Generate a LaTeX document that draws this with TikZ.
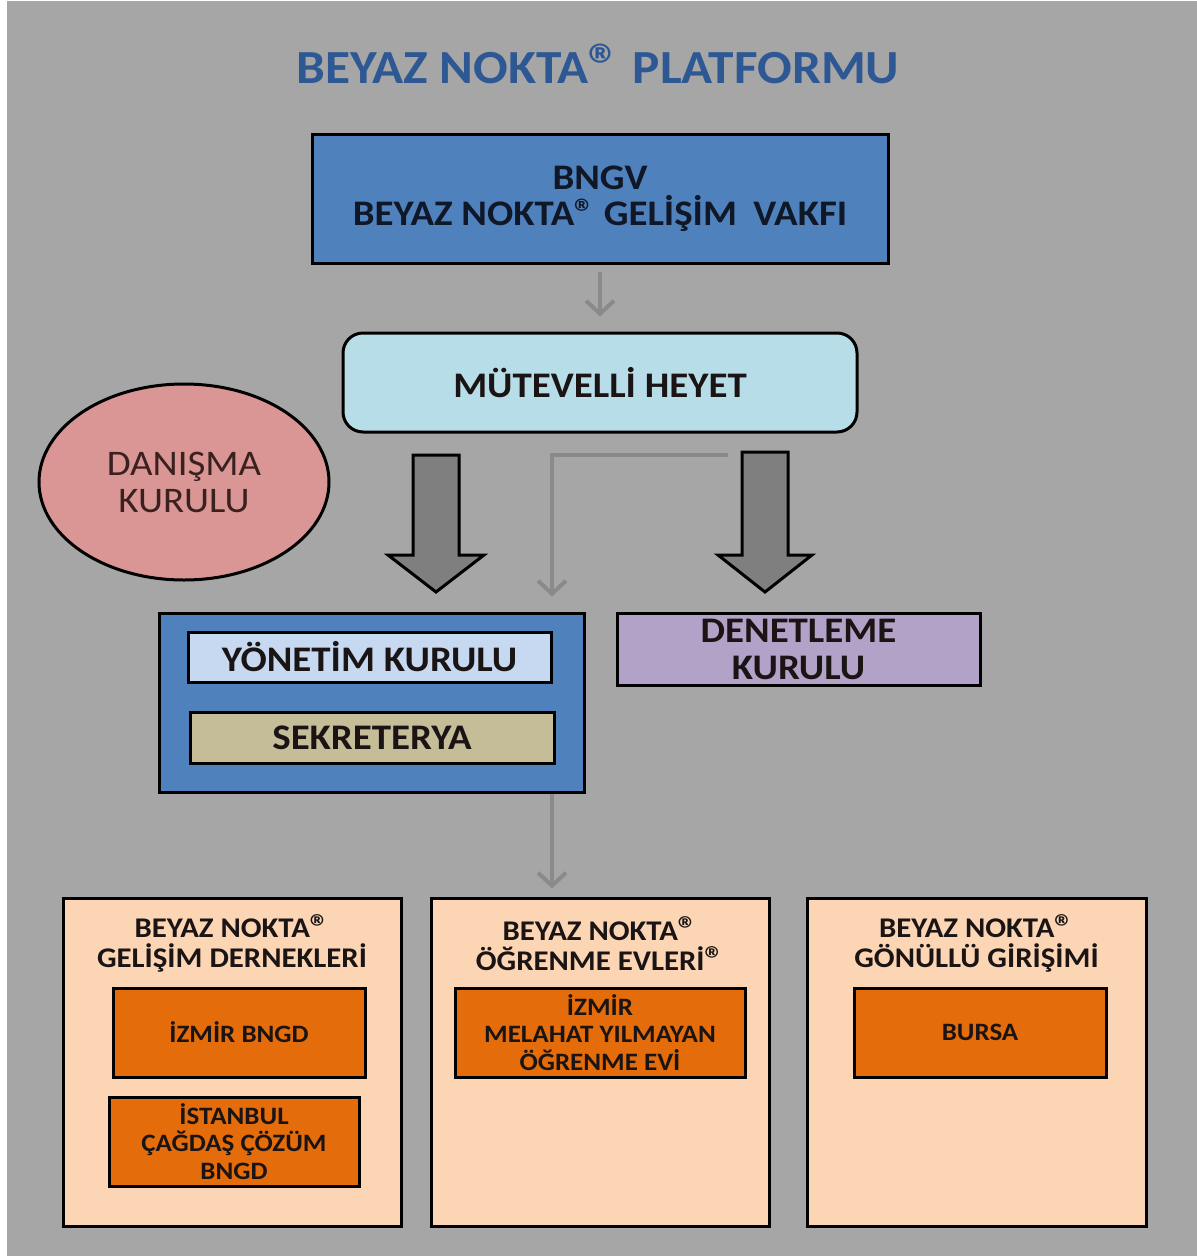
\documentclass[tikz,border=0pt]{standalone}
\usepackage{fontspec}
\usepackage{graphicx}
\setmainfont{Carlito}[FakeStretch=1.08]
\usetikzlibrary{arrows.meta,shapes.geometric,calc}
\definecolor{bg}{HTML}{A6A6A6}
\definecolor{titleblue}{HTML}{2E5893}
\definecolor{bngvblue}{HTML}{4F81BD}
\definecolor{mutfill}{HTML}{B7DEE8}
\definecolor{danfill}{HTML}{D99694}
\definecolor{arrg}{HTML}{7F7F7F}
\definecolor{lineg}{HTML}{8A8A8A}
\definecolor{ykfill}{HTML}{C6D9F1}
\definecolor{sekfill}{HTML}{C4BD97}
\definecolor{denfill}{HTML}{B3A2C7}
\definecolor{peach}{HTML}{FCD5B5}
\definecolor{orangefill}{HTML}{E46C0A}
\definecolor{navytxt}{HTML}{101828}
\definecolor{darktxt}{HTML}{1A1414}
\definecolor{dantxt}{HTML}{3B2020}
\newcommand{\regmark}{\smash{\raisebox{-0.05em}{\scalebox{1.25}{®}}}}
\newcommand{\regsmall}{\smash{\scalebox{1.05}{®}}}
\begin{document}
\begin{tikzpicture}[x=1pt,y=-1pt,
  box/.style={draw=black, line width=3pt, inner sep=0pt, align=center, text=darktxt},
  conn/.style={draw=lineg, line width=4pt, -{Straight Barb[length=13pt,width=28pt]}},
  bigarrow/.style={fill=arrg, draw=black, line width=3pt, line join=miter},
  bigtxt/.style={font=\fontsize{36}{37}\selectfont\bfseries},
  headtxt/.style={font=\fontsize{28.5}{30}\selectfont\bfseries},
  smalltxt/.style={font=\fontsize{25}{27.5}\selectfont\bfseries}
]
\fill[white] (0,0) rectangle (1197,1256);
\fill[bg] (7,1) rectangle (1197,1256);
\useasboundingbox (0,0) rectangle (1197,1256);

% title
\node[text=titleblue, font=\fontsize{47.5}{50}\selectfont\bfseries] (title) at (598,68)
  {BEYAZ NOKTA\regmark\ PLATFORMU};

% BNGV
\node[box, fill=bngvblue, text=navytxt, minimum width=576pt, minimum height=129pt,
  font=\fontsize{36}{36}\selectfont\bfseries] (bngv) at (600,198.5)
  {BNGV\\BEYAZ NOKTA\regsmall{} GELİŞİM\hspace{0.45em}VAKFI};

% Mutevelli
\node[box, fill=mutfill, rounded corners=20pt, minimum width=514pt, minimum height=99pt,
  font=\fontsize{36}{36}\selectfont\bfseries] (mut) at (600,382.5) {MÜTEVELLİ HEYET};

\draw[conn, shorten <=7pt, shorten >=15pt] (bngv.south) -- (mut.north);

% Danisma
\node[ellipse, draw=black, line width=3pt, fill=danfill, text=dantxt, inner sep=0pt,
  minimum width=290pt, minimum height=196pt, align=center,
  font=\fontsize{36}{37}\selectfont] (dan) at (184,482) {DANIŞMA\\KURULU};

% Yonetim group
\node[box, fill=bngvblue, minimum width=425pt, minimum height=179pt] (yon) at (371.5,702.5) {};
\node[box, fill=ykfill, minimum width=363pt, minimum height=50pt, bigtxt] (yk) at (369.5,657) {YÖNETİM KURULU};
\node[box, fill=sekfill, minimum width=364pt, minimum height=51pt, bigtxt] (sek) at (372,737.5) {SEKRETERYA};

% Denetleme
\node[box, fill=denfill, minimum width=363pt, minimum height=72pt, bigtxt] (den) at (798.5,649) {DENETLEME\\KURULU};

% block arrows
\draw[bigarrow] (413,455) -- (459,455) -- (459,555) -- (484,555) -- (436,592) -- (388,555) -- (413,555) -- cycle;
\draw[bigarrow] (742,452) -- (788,452) -- (788,555) -- (812,555) -- (765,592) -- (718,555) -- (742,555) -- cycle;

% elbow connector
\coordinate (elbstart) at (728,455);
\coordinate (linkx) at (552,0);
\draw[conn, shorten >=15pt] (elbstart) -- (elbstart -| linkx) -- (yon.north -| linkx);

% bottom boxes
\node[box, fill=peach, minimum width=338pt, minimum height=328pt] (b1) at (232,1062) {};
\node[box, fill=peach, minimum width=338pt, minimum height=328pt] (b2) at (600,1062) {};
\node[box, fill=peach, minimum width=339pt, minimum height=328pt] (b3) at (976.5,1062) {};

\draw[conn, shorten >=8pt] (yon.south -| linkx) -- (b2.north -| linkx);

\node[headtxt, text=darktxt, align=center] (b1t) at (232,946) {BEYAZ NOKTA\regmark\\GELİŞİM DERNEKLERİ};
\node[headtxt, text=darktxt, align=center] (b2t) at (600,946) {BEYAZ NOKTA\regmark\\ÖĞRENME EVLERİ\regmark};
\node[headtxt, text=darktxt, align=center] (b3t) at (976.5,946) {BEYAZ NOKTA\regmark\\GÖNÜLLÜ GİRİŞİMİ};

\node[box, fill=orangefill, minimum width=252pt, minimum height=89pt, smalltxt] (izm) at (239,1032.5) {İZMİR BNGD};
\node[box, fill=orangefill, minimum width=250pt, minimum height=89pt, smalltxt] (ist) at (234,1141.5) {İSTANBUL\\ÇAĞDAŞ ÇÖZÜM\\BNGD};
\node[box, fill=orangefill, minimum width=290pt, minimum height=89pt, smalltxt] (mel) at (600,1032.5) {İZMİR\\MELAHAT YILMAYAN\\ÖĞRENME EVİ};
\node[box, fill=orangefill, minimum width=252pt, minimum height=89pt, smalltxt] (bur) at (980,1032.5) {BURSA};
\end{tikzpicture}
\end{document}
